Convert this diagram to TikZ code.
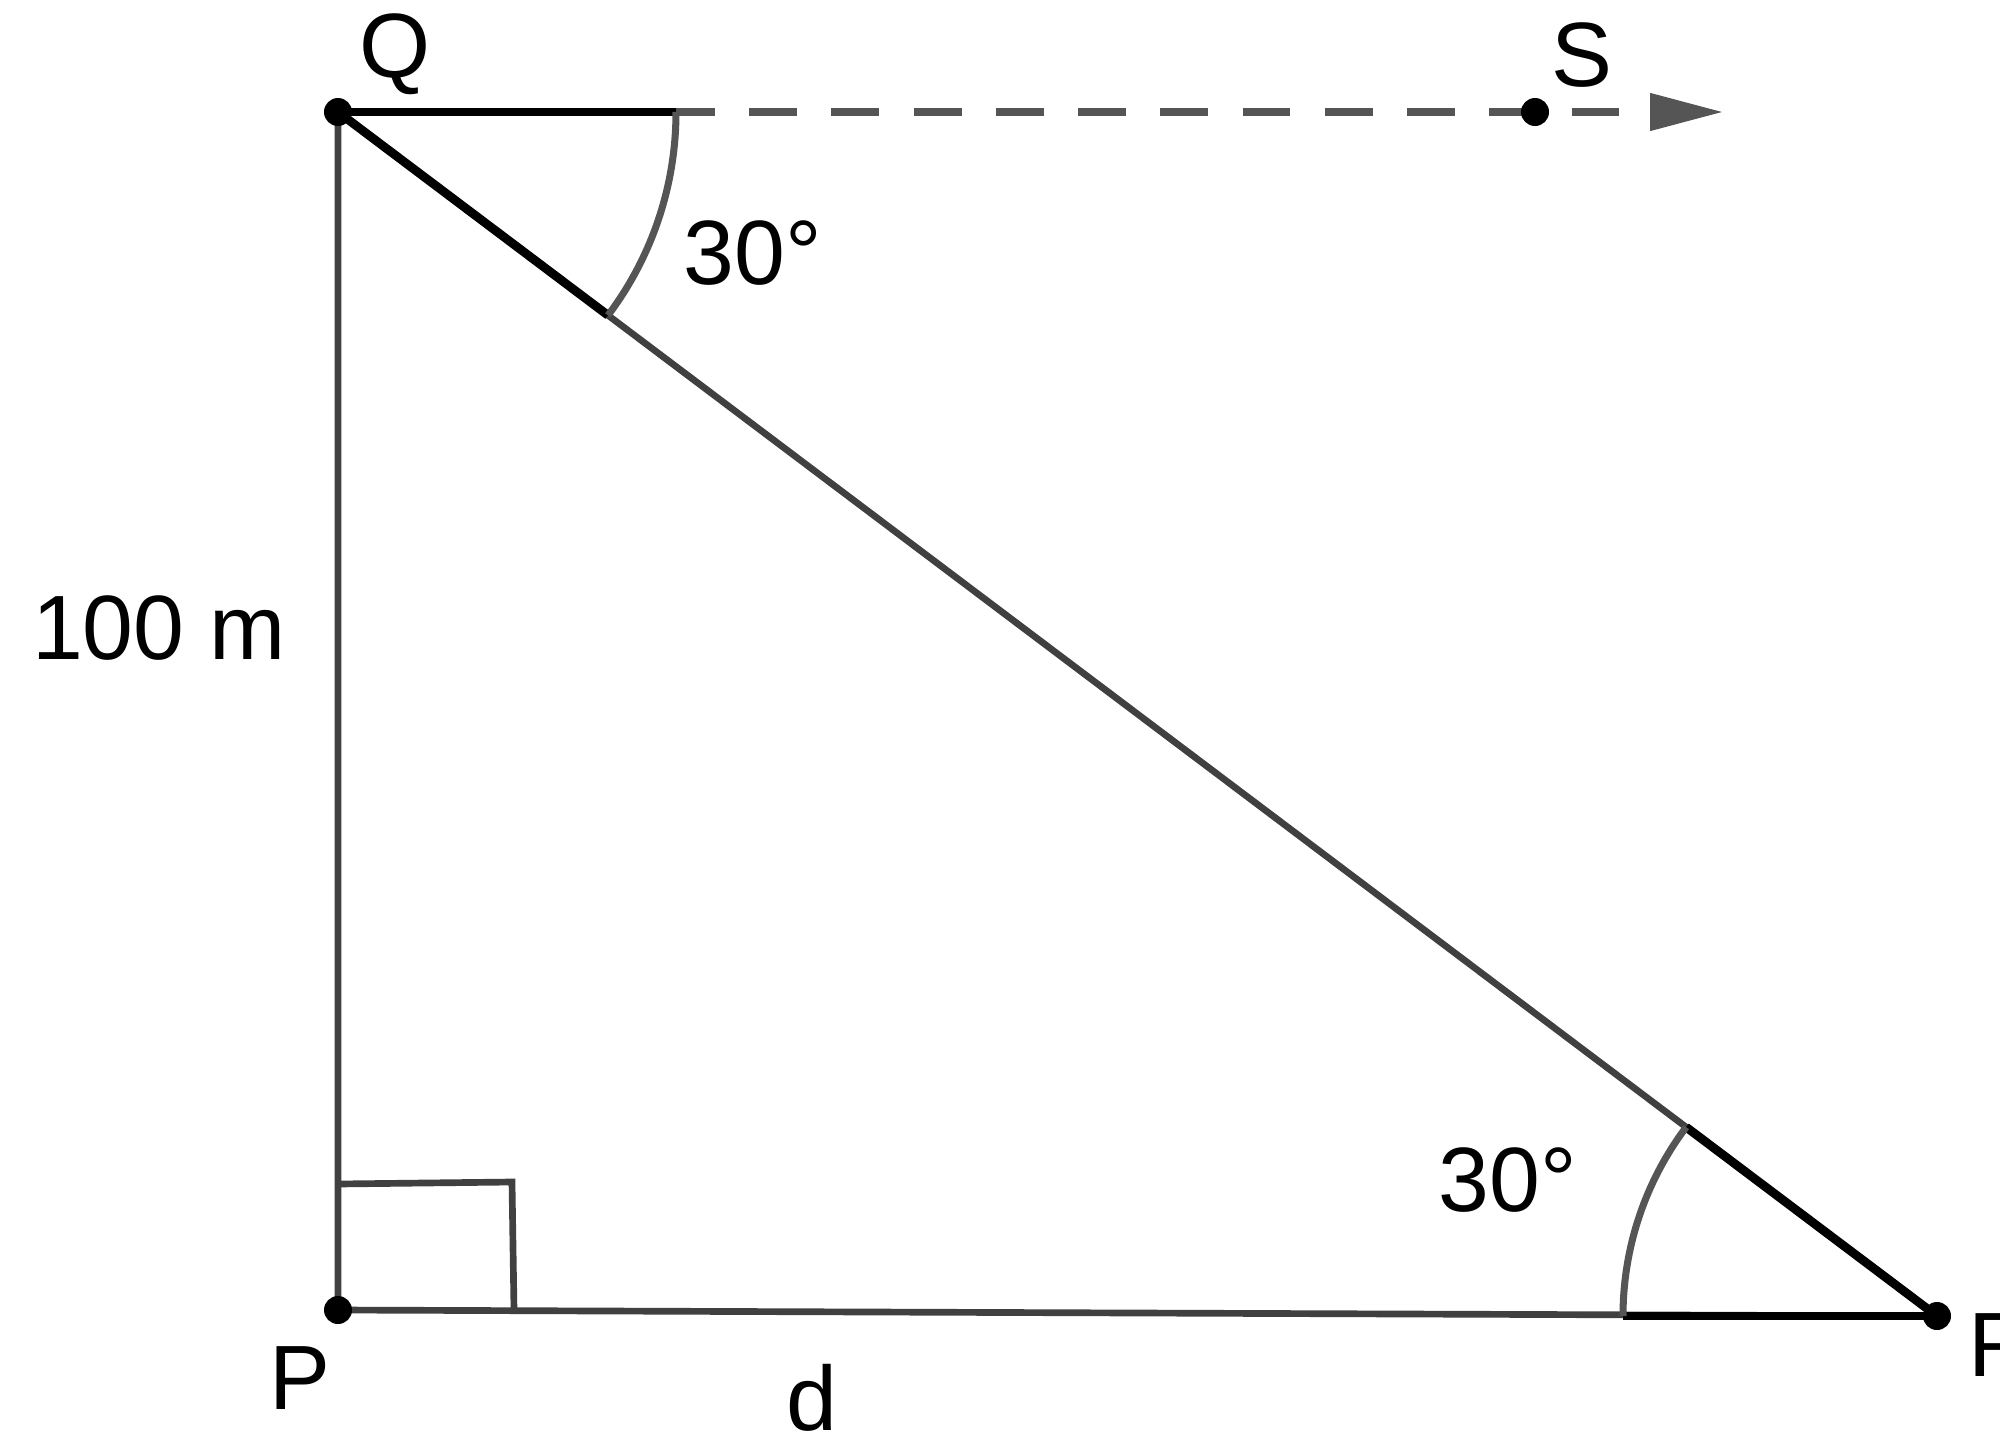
\documentclass[tikz,border=0pt]{standalone}
\usepackage{fontspec}
\setmainfont{Liberation Sans}
\usetikzlibrary{arrows.meta}
\definecolor{linegray}{HTML}{404040}
\definecolor{dashgray}{HTML}{555555}

\begin{document}
\begin{tikzpicture}[font=\fontsize{26}{31}\selectfont,
        side/.style={draw=linegray, line width=1.9pt},
        wedge/.style={draw=black, line width=2.5pt},
        anglearc/.style={draw=dashgray, line width=2pt},
        dot/.style={fill=black}]
        \useasboundingbox (0,0) rectangle (20,-14.46);

        \coordinate (Q) at (3.38,-1.12);
        \coordinate (P) at (3.38,-13.10);
        \coordinate (R) at (19.37,-13.16);
        \coordinate (S) at (15.35,-1.12);
        \coordinate (end) at (17.23,-1.12);

        % triangle
        \draw[side] (Q) -- (P) -- (R) -- cycle;
        \draw[side] (3.38,-11.84) -- (5.12,-11.82) -- (5.14,-13.10);

        % horizontal line through Q
        \draw[dashgray, line width=2.2pt, dash pattern=on 13.6pt off 9.8pt,
              -{Triangle[length=0.73cm,width=0.36cm]}] (Q) -- (end);

        % angles
        \draw[wedge] (Q) -- ++(3.38,0);
        \draw[wedge] (Q) -- ++(-36.98:3.38);
        \draw[anglearc] (Q) ++(3.38,0) arc[start angle=0, end angle=-36.98, radius=3.38];
        \draw[wedge] (R) -- ++(-3.14,0);
        \draw[wedge] (R) -- ++(143.02:3.14);
        \draw[anglearc] (R) ++(-3.14,0) arc[start angle=180, end angle=143.02, radius=3.14];

        % points
        \fill[dot] (Q) circle (0.14);
        \fill[dot] (P) circle (0.14);
        \fill[dot] (R) circle (0.14);
        \fill[dot] (S) circle (0.14);

        % labels
        \node (q_lbl) at (3.95,-0.54) {Q};
        \node (s_lbl) at (15.82,-0.55) {S};
        \node (p_lbl) at (3.00,-13.78) {P};
        \node (r_lbl) at (19.68,-13.45) [anchor=west, inner sep=0pt] {R};
        \node (ang_q) at (7.53,-2.53) {30°};
        \node (ang_r) at (15.08,-11.80) {30°};
        \node (height) at (1.59,-6.28) {100 m};
        \node (dist) at (8.12,-13.98) {d};
    \end{tikzpicture}
\end{document}
